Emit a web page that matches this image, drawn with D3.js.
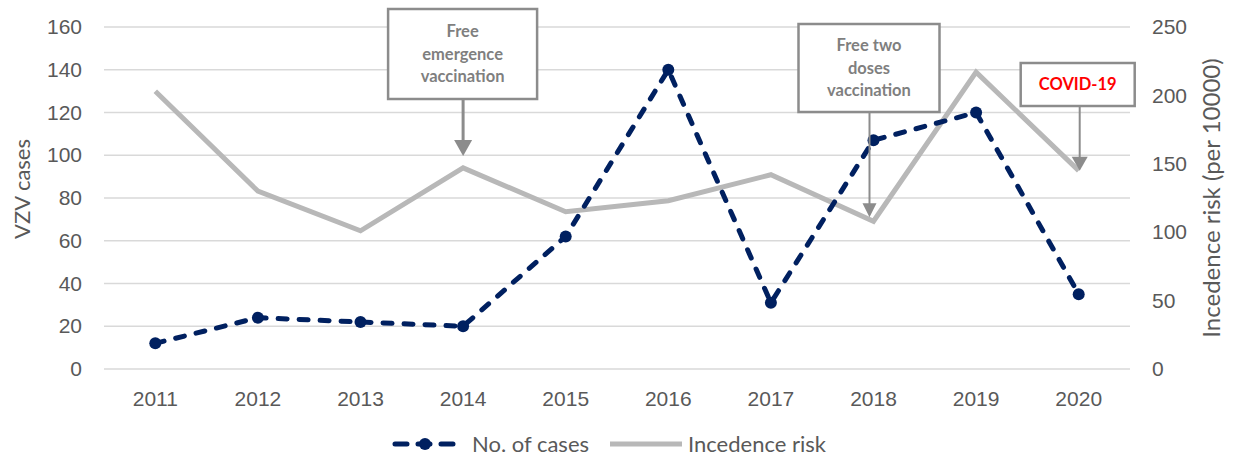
<!DOCTYPE html>
<html>
<head>
<meta charset="utf-8">
<script src="https://cdn.jsdelivr.net/npm/d3@7"></script>
<style>
  body { margin: 0; background: #fff; }
  svg { font-family: Lato, "Liberation Sans", Arial, sans-serif; }
</style>
</head>
<body>
<div id="graf"></div>
<script>
// datos del gráfico
const anios = [2011, 2012, 2013, 2014, 2015, 2016, 2017, 2018, 2019, 2020]
const casos = [12, 24, 22, 20, 62, 140, 31, 107, 120, 35]
const riesgo = [203, 130, 101, 147, 115, 123, 142, 108, 217, 145]
const ticksCasos = [0, 20, 40, 60, 80, 100, 120, 140, 160]
const ticksRiesgo = [0, 50, 100, 150, 200, 250]

// anotaciones (año al que apuntan, serie de riesgo)
const notas = [
  { anio: 2014, lineas: ['Free', 'emergence', 'vaccination'], color: '#7f7f7f' },
  { anio: 2018, lineas: ['Free two', 'doses', 'vaccination'], color: '#7f7f7f' },
  { anio: 2020, lineas: ['COVID-19'], color: '#ff0000' }
]

const ancho = 1238
const alto = 456
const izq = 104, der = 1130, arriba = 27, abajo = 369

const azul = '#002060'
const gris = '#b8b8b8'
const texto = '#595959'

const svg = d3.select('#graf').append('svg')
  .attr('width', ancho)
  .attr('height', alto)

const x = d3.scaleBand().domain(anios).range([izq, der])
const cx = d => x(d) + x.bandwidth() / 2
const yCasos = d3.scaleLinear().domain([0, 160]).range([abajo, arriba])
const yRiesgo = d3.scaleLinear().domain([0, 250]).range([abajo, arriba])

// rejilla
svg.append('g').selectAll('line')
  .data(ticksCasos)
  .join('line')
  .attr('x1', izq).attr('x2', der)
  .attr('y1', d => yCasos(d)).attr('y2', d => yCasos(d))
  .attr('stroke', '#d9d9d9')
  .attr('stroke-width', 1.5)

// eje izquierdo
const ejeIzq = svg.append('g')
  .attr('transform', `translate(${izq}, 0)`)
  .call(d3.axisLeft(yCasos).tickValues(ticksCasos).tickSize(0).tickPadding(22))
ejeIzq.select('.domain').remove()
ejeIzq.selectAll('text').attr('font-size', 21).attr('fill', texto).attr('font-family', null)

// eje derecho
const ejeDer = svg.append('g')
  .attr('transform', `translate(${der}, 0)`)
  .call(d3.axisRight(yRiesgo).tickValues(ticksRiesgo).tickSize(0).tickPadding(22))
ejeDer.select('.domain').remove()
ejeDer.selectAll('text').attr('font-size', 21).attr('fill', texto).attr('font-family', null)

// eje x
const ejeX = svg.append('g')
  .attr('transform', `translate(0, ${abajo})`)
  .call(d3.axisBottom(x).tickSize(0).tickPadding(22))
ejeX.select('.domain').remove()
ejeX.selectAll('text').attr('font-size', 21).attr('fill', texto).attr('font-family', null)

// títulos de ejes
svg.append('text')
  .attr('transform', 'translate(30, 189) rotate(-90)')
  .attr('text-anchor', 'middle')
  .attr('font-size', 22)
  .attr('fill', texto)
  .text('VZV cases')

svg.append('text')
  .attr('transform', 'translate(1220, 198) rotate(-90)')
  .attr('text-anchor', 'middle')
  .attr('font-size', 24)
  .attr('fill', texto)
  .text('Incedence risk (per 10000)')

// línea de riesgo
svg.append('path')
  .datum(riesgo)
  .attr('fill', 'none')
  .attr('stroke', gris)
  .attr('stroke-width', 5)
  .attr('d', d3.line().x((d, i) => cx(anios[i])).y(d => yRiesgo(d)))

// línea de casos
svg.append('path')
  .datum(casos)
  .attr('fill', 'none')
  .attr('stroke', azul)
  .attr('stroke-width', 5)
  .attr('stroke-linecap', 'round')
  .attr('stroke-dasharray', '9,12')
  .attr('d', d3.line().x((d, i) => cx(anios[i])).y(d => yCasos(d)))

svg.append('g').selectAll('circle')
  .data(casos)
  .join('circle')
  .attr('cx', (d, i) => cx(anios[i]))
  .attr('cy', d => yCasos(d))
  .attr('r', 6)
  .attr('fill', azul)

// anotaciones
const cajas = [
  { dx: -75, ancho: 149, top: 9, alto: 90, lw: 3, punta: [18, 16] },
  { dx: -71, ancho: 141, top: 24, alto: 88, lw: 2, punta: [14, 14] },
  { dx: -59, ancho: 114, top: 63, alto: 43, lw: 2, punta: [16, 14] }
]
const ajusteX = [0, -4, 1]
const hueco = [12, 4, 0]

notas.forEach((n, k) => {
  const c = cajas[k]
  const ax = cx(n.anio) + ajusteX[k]
  const tipY = yRiesgo(riesgo[anios.indexOf(n.anio)]) - hueco[k]
  const g = svg.append('g')
  const bx = ax + c.dx
  g.append('rect')
    .attr('x', bx).attr('y', c.top)
    .attr('width', c.ancho).attr('height', c.alto)
    .attr('fill', '#fff')
    .attr('stroke', '#8c8c8c')
    .attr('stroke-width', 2.5)
  const lh = 22.5
  const y0 = c.top + c.alto / 2 - (n.lineas.length - 1) * lh / 2
  n.lineas.forEach((l, j) => {
    g.append('text')
      .attr('x', bx + c.ancho / 2)
      .attr('y', y0 + j * lh)
      .attr('dy', '0.35em')
      .attr('text-anchor', 'middle')
      .attr('font-size', 16.5)
      .attr('font-weight', 'bold')
      .attr('fill', n.color)
      .text(l)
  })
  // flecha
  const [pw, ph] = c.punta
  g.append('line')
    .attr('x1', ax).attr('x2', ax)
    .attr('y1', c.top + c.alto).attr('y2', tipY - ph + 2)
    .attr('stroke', '#8c8c8c')
    .attr('stroke-width', c.lw)
  g.append('path')
    .attr('d', `M${ax - pw / 2},${tipY - ph} L${ax + pw / 2},${tipY - ph} L${ax},${tipY} Z`)
    .attr('fill', '#8c8c8c')
})

// leyenda
const ley = svg.append('g')
ley.append('line')
  .attr('x1', 395).attr('x2', 455)
  .attr('y1', 444).attr('y2', 444)
  .attr('stroke', azul)
  .attr('stroke-width', 5)
  .attr('stroke-linecap', 'round')
  .attr('stroke-dasharray', '12,11')
ley.append('circle')
  .attr('cx', 425).attr('cy', 444).attr('r', 6)
  .attr('fill', azul)
ley.append('text')
  .attr('x', 472).attr('y', 444)
  .attr('dy', '0.35em')
  .attr('font-size', 22)
  .attr('fill', texto)
  .text('No. of cases')
ley.append('line')
  .attr('x1', 610).attr('x2', 682)
  .attr('y1', 444).attr('y2', 444)
  .attr('stroke', gris)
  .attr('stroke-width', 5)
ley.append('text')
  .attr('x', 688).attr('y', 444)
  .attr('dy', '0.35em')
  .attr('font-size', 22)
  .attr('fill', texto)
  .text('Incedence risk')
</script>
</body>
</html>
